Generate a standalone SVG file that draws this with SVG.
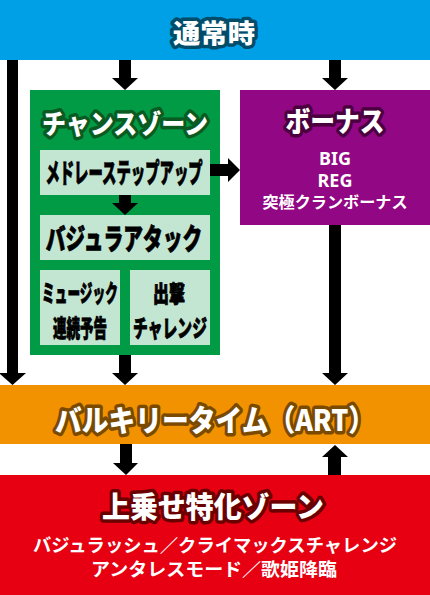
<svg xmlns="http://www.w3.org/2000/svg" width="430" height="595" viewBox="0 0 430 595">
<style>
text{font-family:"Noto Sans CJK JP","Noto Sans",sans-serif;font-weight:900;text-anchor:middle}
.title{fill:#fff;paint-order:stroke;stroke-width:7;stroke-linejoin:round}
.sub{fill:#000;stroke:#000;stroke-width:0.8;font-weight:900}
.wt{fill:#fff;font-weight:700}
.lat{font-family:"Noto Sans","Liberation Sans",sans-serif;font-weight:700}
.box{fill:#c3e6d2}
.arr{fill:#000}
</style>

<g id="normal">
<rect x="0" y="0" width="430" height="60" fill="#00a0e6"/>
<text class="title" x="214" y="43" font-size="26" stroke="#004c6b" textLength="82" lengthAdjust="spacingAndGlyphs">通常時</text>
</g>

<g id="chance-zone">
<rect x="30" y="90" width="190" height="265" fill="#009b44"/>
<text class="title" x="125" y="134" font-size="27" stroke="#0a5a22" textLength="166" lengthAdjust="spacingAndGlyphs">チャンスゾーン</text>
</g>

<g id="medley">
<rect class="box" x="40" y="150" width="170" height="45"/>
<text class="sub" font-size="27" transform="translate(124,183) scale(0.532,1)">メドレーステップアップ</text>
</g>

<g id="vajra-attack">
<rect class="box" x="40" y="215" width="170" height="45"/>
<text class="sub" font-size="29" transform="translate(124,250) scale(0.681,1)">バジュラアタック</text>
</g>

<g id="music">
<rect class="box" x="40" y="270" width="80" height="75"/>
<text class="sub" font-size="24" transform="translate(80,302) scale(0.528,1)">ミュージック</text>
<text class="sub" font-size="24" transform="translate(80,337) scale(0.5625,1)">連続予告</text>
</g>

<g id="shutsugeki">
<rect class="box" x="130" y="270" width="80" height="75"/>
<text class="sub" font-size="23" transform="translate(169,302) scale(0.696,1)">出撃</text>
<text class="sub" font-size="24" transform="translate(170,337) scale(0.617,1)">チャレンジ</text>
</g>

<g id="bonus">
<rect x="240" y="90" width="190" height="135" fill="#920783"/>
<text class="title" x="335" y="132" font-size="28" stroke="#4a003f" textLength="99" lengthAdjust="spacingAndGlyphs">ボーナス</text>
<text class="wt lat" x="335" y="165" font-size="18">BIG</text>
<text class="wt lat" x="335" y="187" font-size="18">REG</text>
<text class="wt" x="335" y="208" font-size="16" textLength="145" lengthAdjust="spacingAndGlyphs">突極クランボーナス</text>
</g>

<g id="art">
<rect x="0" y="385" width="430" height="59" fill="#f39200"/>
<text class="title" x="215" y="431" font-size="30" stroke="#7a4a00" textLength="320" lengthAdjust="spacingAndGlyphs">バルキリータイム（ART）</text>
</g>

<g id="uwanose-zone">
<rect x="0" y="475" width="430" height="120" fill="#e60012"/>
<text class="title" x="213" y="518" font-size="29" stroke="#6b0000" textLength="222" lengthAdjust="spacingAndGlyphs">上乗せ特化ゾーン</text>
<text class="wt" x="215" y="552" font-size="18" textLength="364" lengthAdjust="spacingAndGlyphs">バジュラッシュ／クライマックスチャレンジ</text>
<text class="wt" x="214" y="576" font-size="18" textLength="246" lengthAdjust="spacingAndGlyphs">アンタレスモード／歌姫降臨</text>
</g>

<g id="connectors" class="arr">
<path d="M7,60 H18 V373 H26 L12.5,385 L-1,373 H7 Z"/>
<path d="M119,60 H131 V78 H138 L125,90 L112,78 H119 Z"/>
<path d="M329,60 H341 V78 H348 L335,90 L322,78 H329 Z"/>
<path d="M119,195 H131 V203 H138 L125,215 L112,203 H119 Z"/>
<path d="M210,164 H228 V158 L240,170 L228,182 V176 H210 Z"/>
<path d="M119,355 H131 V373 H138 L125,385 L112,373 H119 Z"/>
<path d="M329,225 H341 V373 H348 L335,385 L322,373 H329 Z"/>
<path d="M120,444 H132 V463 H138 L126,475 L113,463 H120 Z"/>
<path d="M328,475 H341 V457 H348 L335,445 L322,457 H328 Z"/>
</g>
</svg>
